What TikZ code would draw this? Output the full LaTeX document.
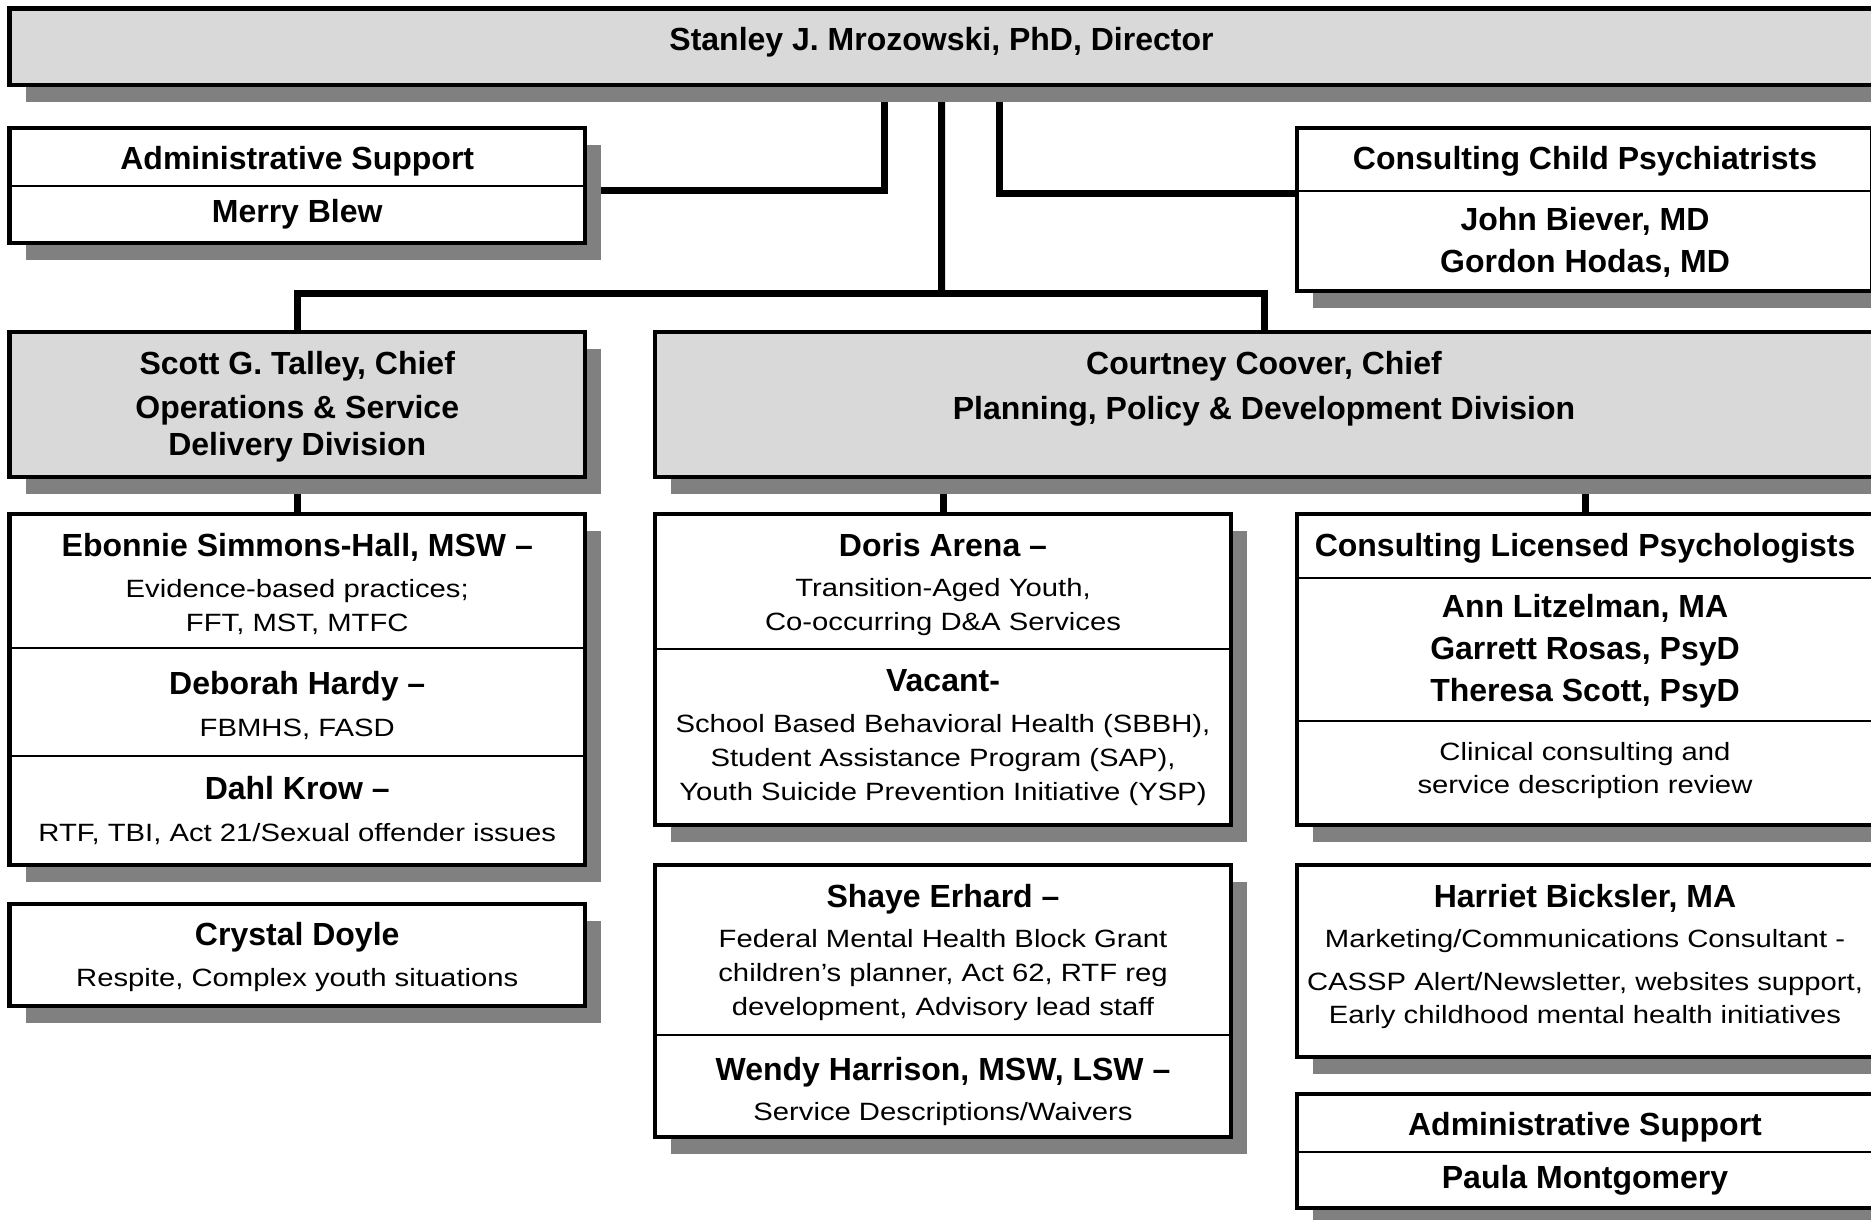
\documentclass[tikz,border=0pt]{standalone}
\usepackage{fontspec}
\setmainfont{Liberation Sans}
\newfontfamily\descfont{Liberation Sans}[FakeStretch=1.17]
\usepackage{tikz}
\usetikzlibrary{positioning}
\usetikzlibrary{shadows}
\usetikzlibrary{backgrounds}
\definecolor{boxgray}{HTML}{D9D9D9}
\definecolor{shadowgray}{HTML}{808080}
\tikzset{>=stealth}

\begin{document}
\begin{tikzpicture}[x=1pt,y=-1pt,
    cell/.style={draw, line width=4.5pt, fill=white, inner sep=0pt, outer sep=0pt,
      anchor=north west, minimum width=575.5pt,
      drop shadow={shadow xshift=16pt, shadow yshift=-17pt, fill=shadowgray, opacity=1}},
    chief/.style={cell, fill=boxgray},
    split/.style={line width=2.5pt},
    link/.style={line width=7pt},
    who/.style={font=\bfseries\fontsize{32}{42}\selectfont, anchor=base, inner sep=0pt},
    duty/.style={font=\descfont\fontsize{25}{34}\selectfont, anchor=base, inner sep=0pt}]
  \useasboundingbox (0,0) rectangle (1871,1220);
  \clip (0,0) rectangle (1871,1220);

  % boxes
  \node[chief, minimum width=1864.5pt, minimum height=76.5pt] (director) at (9.5,8.5) {};
  \node[cell, minimum height=115pt] (adminL) at (9.5,128) {};
  \node[cell, minimum height=163pt] (psych) at (1297,128) {};
  \node[chief, minimum height=145pt] (talley) at (9.5,332) {};
  \node[chief, minimum width=1218pt, minimum height=145pt] (coover) at (655,332) {};
  \node[cell, minimum height=351pt] (simmons) at (9.5,514) {};
  \node[cell, minimum height=102pt] (crystal) at (9.5,904) {};
  \node[cell, minimum width=576pt, minimum height=311pt] (doris) at (655,514) {};
  \node[cell, minimum width=576pt, minimum height=272pt] (shaye) at (655,865) {};
  \node[cell, minimum width=576pt, minimum height=311pt] (psychologists) at (1297,514) {};
  \node[cell, minimum width=576pt, minimum height=192pt] (harriet) at (1297,865) {};
  \node[cell, minimum width=576pt, minimum height=114pt] (adminR) at (1297,1094) {};

  % section rules
  \draw[split] (adminL.west |- 0,186) -- (adminL.east |- 0,186);
  \draw[split] (psych.west |- 0,191) -- (psych.east |- 0,191);
  \draw[split] (simmons.west |- 0,648) -- (simmons.east |- 0,648);
  \draw[split] (simmons.west |- 0,756) -- (simmons.east |- 0,756);
  \draw[split] (doris.west |- 0,649) -- (doris.east |- 0,649);
  \draw[split] (shaye.west |- 0,1035) -- (shaye.east |- 0,1035);
  \draw[split] (psychologists.west |- 0,578) -- (psychologists.east |- 0,578);
  \draw[split] (psychologists.west |- 0,721) -- (psychologists.east |- 0,721);
  \draw[split] (adminR.west |- 0,1152) -- (adminR.east |- 0,1152);

  % connectors
  \coordinate (bus) at (941.5,293);
  \begin{scope}[on background layer]
    \draw[link] ([xshift=-57.5pt]director.south) |- (adminL.east |- 0,190.5);
    \draw[link] ([xshift=57.5pt]director.south) |- (psych.west |- 0,193.5);
    \draw[link] (director.south) -- (bus);
    \draw[link] (talley.north) |- (bus) -| (coover.north);
    \draw[link] (talley.south) -- (simmons.north);
    \draw[link] (doris.north |- coover.south) -- (doris.north);
    \draw[link] (psychologists.north |- coover.south) -- (psychologists.north);
  \end{scope}

  % texts
  \node[who] (directorT) at (941.5,50.5) {Stanley J. Mrozowski, PhD, Director};
  \node[who] (adminLT) at (297.25,169) {Administrative Support};
  \node[who] (adminLN) at (297.25,222) {Merry Blew};
  \node[who] (psychT) at (1585,169.5) {Consulting Child Psychiatrists};
  \node[who] (psychN1) at (1585,230) {John Biever, MD};
  \node[who] (psychN2) at (1585,272) {Gordon Hodas, MD};
  \node[who] (talleyN) at (297.25,374) {Scott G. Talley, Chief};
  \node[who] (talleyT1) at (297.25,418) {Operations \& Service};
  \node[who] (talleyT2) at (297.25,455.5) {Delivery Division};
  \node[who] (cooverN) at (1264,374) {Courtney Coover, Chief};
  \node[who] (cooverT) at (1264,419) {Planning, Policy \& Development Division};

  \node[who] (simmonsN) at (297.25,556.7) {Ebonnie Simmons-Hall, MSW –};
  \node[duty] (simmonsT1) at (297.25,597.5) {Evidence-based practices;};
  \node[duty] (simmonsT2) at (297.25,631.5) {FFT, MST, MTFC};
  \node[who] (hardyN) at (297.25,694.5) {Deborah Hardy –};
  \node[duty] (hardyT) at (297.25,736.7) {FBMHS, FASD};
  \node[who] (krowN) at (297.25,799.5) {Dahl Krow –};
  \node[duty] (krowT) at (297.25,841) {RTF, TBI, Act 21/Sexual offender issues};
  \node[who] (crystalN) at (297.25,945.5) {Crystal Doyle};
  \node[duty] (crystalT) at (297.25,986.6) {Respite, Complex youth situations};

  \node[who] (dorisN) at (943,556.5) {Doris Arena –};
  \node[duty] (dorisT1) at (943,596.5) {Transition-Aged Youth,};
  \node[duty] (dorisT2) at (943,630.5) {Co-occurring D\&A Services};
  \node[who] (vacantN) at (943,691.5) {Vacant-};
  \node[duty] (vacantT1) at (943,732.5) {School Based Behavioral Health (SBBH),};
  \node[duty] (vacantT2) at (943,766.5) {Student Assistance Program (SAP),};
  \node[duty] (vacantT3) at (943,800.5) {Youth Suicide Prevention Initiative (YSP)};
  \node[who] (shayeN) at (943,907) {Shaye Erhard –};
  \node[duty] (shayeT1) at (943,947.5) {Federal Mental Health Block Grant};
  \node[duty] (shayeT2) at (943,981.5) {children’s planner, Act 62, RTF reg};
  \node[duty] (shayeT3) at (943,1015.5) {development, Advisory lead staff};
  \node[who] (wendyN) at (943,1080) {Wendy Harrison, MSW, LSW –};
  \node[duty] (wendyT) at (943,1120.5) {Service Descriptions/Waivers};

  \node[who] (psychologistsT) at (1585,556.5) {Consulting Licensed Psychologists};
  \node[who] (psychologistsN1) at (1585,617) {Ann Litzelman, MA};
  \node[who] (psychologistsN2) at (1585,659) {Garrett Rosas, PsyD};
  \node[who] (psychologistsN3) at (1585,701) {Theresa Scott, PsyD};
  \node[duty] (psychologistsD1) at (1585,760) {Clinical consulting and};
  \node[duty] (psychologistsD2) at (1585,793.5) {service description review};
  \node[who] (harrietN) at (1585,907) {Harriet Bicksler, MA};
  \node[duty] (harrietT) at (1585,947.5) {Marketing/Communications Consultant -};
  \node[duty] (harrietD1) at (1585,990) {CASSP Alert/Newsletter, websites support,};
  \node[duty] (harrietD2) at (1585,1023) {Early childhood mental health initiatives};
  \node[who] (adminRT) at (1585,1135) {Administrative Support};
  \node[who] (adminRN) at (1585,1188) {Paula Montgomery};
\end{tikzpicture}
\end{document}
